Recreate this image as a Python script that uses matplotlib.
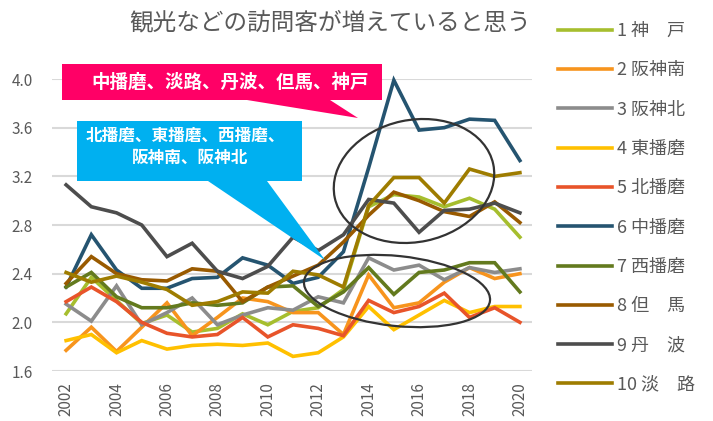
import matplotlib
matplotlib.use('Agg')
import matplotlib.pyplot as plt
from matplotlib.patches import Polygon, Ellipse
from matplotlib.ticker import FormatStrFormatter

plt.rcParams['font.family'] = ['Noto Sans CJK JP', 'DejaVu Sans']

years = list(range(2002, 2021))

kobe = [2.07, 2.37, 2.18, 1.99, 2.06, 1.92, 1.95, 2.07, 1.98, 2.09, 2.12, 2.27, 2.95, 3.05, 3.03, 2.95, 3.02, 2.93, 2.70]
hanshin_minami = [1.77, 1.96, 1.76, 1.96, 2.16, 1.89, 2.04, 2.20, 2.17, 2.08, 2.08, 1.90, 2.39, 2.12, 2.16, 2.33, 2.45, 2.36, 2.40]
hanshin_kita = [2.15, 2.01, 2.30, 1.98, 2.08, 2.20, 1.98, 2.06, 2.12, 2.10, 2.21, 2.16, 2.53, 2.43, 2.47, 2.35, 2.45, 2.41, 2.44]
higashi_harima = [1.85, 1.90, 1.75, 1.85, 1.78, 1.81, 1.82, 1.81, 1.83, 1.72, 1.75, 1.88, 2.13, 1.94, 2.06, 2.18, 2.08, 2.13, 2.13]
kita_harima = [2.17, 2.29, 2.17, 2.00, 1.91, 1.88, 1.90, 2.04, 1.88, 1.98, 1.95, 1.89, 2.18, 2.08, 2.13, 2.24, 2.04, 2.12, 2.00]
naka_harima = [2.29, 2.72, 2.43, 2.28, 2.28, 2.36, 2.37, 2.53, 2.47, 2.32, 2.37, 2.58, 3.27, 3.99, 3.58, 3.60, 3.67, 3.66, 3.33]
nishi_harima = [2.29, 2.41, 2.21, 2.12, 2.12, 2.16, 2.14, 2.16, 2.29, 2.30, 2.13, 2.25, 2.45, 2.23, 2.41, 2.43, 2.49, 2.49, 2.25]
tajima = [2.32, 2.54, 2.40, 2.35, 2.34, 2.44, 2.42, 2.17, 2.29, 2.38, 2.47, 2.66, 2.88, 3.07, 3.00, 2.91, 2.87, 2.99, 2.82]
tanba = [3.13, 2.95, 2.90, 2.80, 2.54, 2.65, 2.42, 2.36, 2.46, 2.70, 2.59, 2.72, 3.01, 2.98, 2.74, 2.92, 2.93, 2.98, 2.90]
awaji = [2.41, 2.33, 2.38, 2.33, 2.27, 2.14, 2.17, 2.25, 2.24, 2.42, 2.39, 2.29, 2.96, 3.19, 3.19, 2.98, 3.26, 3.20, 3.23]

series = [kobe, hanshin_minami, hanshin_kita, higashi_harima, kita_harima,
          naka_harima, nishi_harima, tajima, tanba, awaji]
labels = ['1 神\u3000戸', '2 阪神南', '3 阪神北', '4 東播磨', '5 北播磨',
          '6 中播磨', '7 西播磨', '8 但\u3000馬', '9 丹\u3000波', '10 淡\u3000路']
colors = ['#A6BE2E', '#F7941D', '#8C8C8C', '#FFC000', '#E8542A',
          '#255470', '#637A1E', '#995A00', '#4D4D4D', '#9E7C00']

W, H = 713, 421
fig = plt.figure(figsize=(W / 100, H / 100), dpi=100)
ax = fig.add_axes([52 / W, 50 / H, 480 / W, 292 / H])

for vals, lab, c in zip(series, labels, colors):
    ax.plot(years, vals, color=c, lw=2.6, label=lab, solid_joinstyle='miter', clip_on=False)

ax.set_xlim(2001.44, 2020.48)
ax.set_ylim(1.6, 4.0)
ax.set_yticks([1.6, 2.0, 2.4, 2.8, 3.2, 3.6, 4.0])
ax.yaxis.set_major_formatter(FormatStrFormatter('%.1f'))
ax.set_xticks(years[::2])
ax.tick_params(axis='x', labelrotation=90, length=0, pad=8, labelsize=11, colors='#595959')
ax.tick_params(axis='y', length=0, pad=14, labelsize=11, colors='#595959')
ax.grid(axis='y', color='#D9D9D9', lw=1.5)
ax.set_axisbelow(True)
for s in ax.spines.values():
    s.set_visible(False)

fig.text(330 / W, 1 - 23 / H, '観光などの訪問客が増えていると思う', ha='center', va='center',
         fontsize=17, color='#595959')

ax.legend(loc='upper left', bbox_to_anchor=(558 / W, 1 - 22 / H), bbox_transform=fig.transFigure,
          frameon=False, fontsize=13, handlelength=3.0, handletextpad=0.25,
          labelspacing=1.18, borderaxespad=0, borderpad=0, labelcolor='#595959')


# annotations placed in pixel space (from top-left)
def px(x, y):
    return (x / 100, (H - y) / 100)


tr = fig.dpi_scale_trans
pink = [(62, 64), (382, 64), (382, 100), (330, 100), (358, 118), (247, 100), (62, 100)]
fig.patches.append(Polygon([px(*p) for p in pink], closed=True, fc='#FF0066', ec='none',
                           transform=tr, figure=fig, zorder=5))
fig.text(*px(230, 82), '中播磨、淡路、丹波、但馬、神戸', transform=tr, ha='center', va='center',
         fontsize=13.3, color='white', fontweight='bold', zorder=6)

blue = [(77, 121), (302, 121), (302, 181), (267, 181), (325, 260), (208, 181), (77, 181)]
fig.patches.append(Polygon([px(*p) for p in blue], closed=True, fc='#00B0F0', ec='none',
                           transform=tr, figure=fig, zorder=5))
fig.text(*px(185, 136), '北播磨、東播磨、西播磨、', transform=tr, ha='center', va='center',
         fontsize=12, color='white', fontweight='bold', zorder=6)
fig.text(*px(190, 158), '阪神南、阪神北', transform=tr, ha='center', va='center',
         fontsize=12, color='white', fontweight='bold', zorder=6)

fig.patches.append(Ellipse(px(414, 181), 1.62, 1.22, angle=12, fc='none', ec='#333333',
                           lw=1.6, transform=tr, figure=fig, zorder=7))
fig.patches.append(Ellipse(px(397, 291), 1.87, 0.70, angle=-6, fc='none', ec='#333333',
                           lw=1.6, transform=tr, figure=fig, zorder=7))

fig.savefig('out.png', dpi=100)
